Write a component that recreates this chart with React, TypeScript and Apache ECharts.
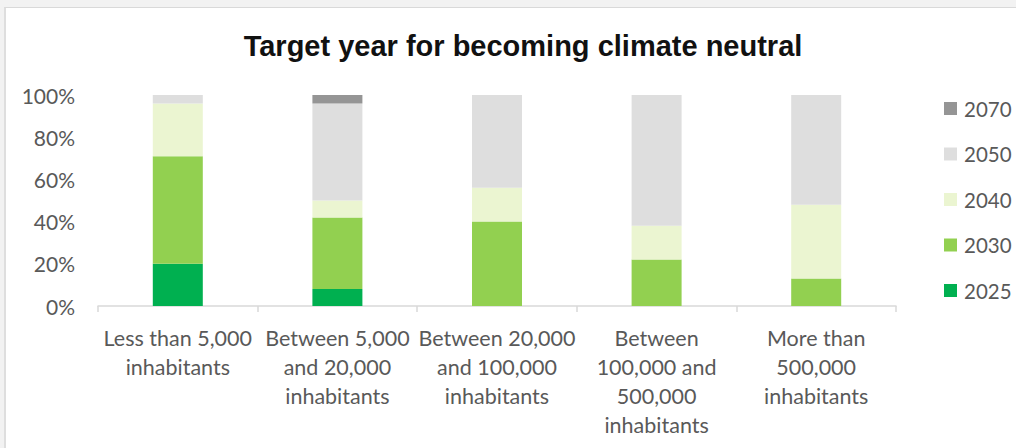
import React, { useEffect, useRef } from "react";
import * as echarts from "echarts";

const categories = [
  "Less than 5,000\ninhabitants",
  "Between 5,000\nand 20,000\ninhabitants",
  "Between 20,000\nand 100,000\ninhabitants",
  "Between\n100,000 and\n500,000\ninhabitants",
  "More than\n500,000\ninhabitants",
];
const y2025 = [20, 8, 0, 0, 0];
const y2030 = [51, 34, 40, 22, 13];
const y2040 = [25, 8, 16, 16, 35];
const y2050 = [4, 46, 44, 62, 52];
const y2070 = [0, 4, 0, 0, 0];
const seriesNames = ["2025", "2030", "2040", "2050", "2070"];
const seriesValues = [y2025, y2030, y2040, y2050, y2070];
const seriesColors = ["#00b050", "#92d050", "#ebf5d1", "#dedede", "#959595"];
const legendOrder = ["2070", "2050", "2040", "2030", "2025"];

const FONT = "Lato, 'Open Sans', sans-serif";
const TEXT = "#595959";

export default function App() {
  const ref = useRef<HTMLDivElement>(null);
  useEffect(() => {
    if (!ref.current) return;
    const chart = echarts.init(ref.current, undefined, { renderer: "svg" });
    chart.setOption({
      animation: false,
      title: {
        text: "Target year for becoming climate neutral",
        left: 518,
        top: 25,
        textAlign: "center",
        textStyle: {
          fontFamily: "'Liberation Sans', Arial, sans-serif",
          fontWeight: "bold",
          fontSize: 29,
          lineHeight: 32,
          color: "#111111",
        },
      },
      legend: {
        orient: "vertical",
        left: 939,
        top: 93,
        itemWidth: 13,
        itemHeight: 13,
        itemGap: 24.5,
        icon: "rect",
        data: legendOrder,
        textStyle: {
          fontFamily: FONT,
          fontSize: 20.5,
          lineHeight: 20,
          color: TEXT,
          padding: [0, 0, 0, 2],
        },
      },
      grid: { left: 98, right: 120, top: 95, bottom: 142 },
      xAxis: {
        type: "category",
        data: categories,
        axisLine: { lineStyle: { color: "#d9d9d9", width: 1.5 } },
        axisTick: { show: true, length: 6, lineStyle: { color: "#d9d9d9", width: 1.5 } },
        axisLabel: {
          interval: 0,
          margin: 17,
          fontFamily: FONT,
          fontSize: 21.5,
          lineHeight: 29,
          color: TEXT,
        },
      },
      yAxis: {
        type: "value",
        min: 0,
        max: 100,
        interval: 20,
        axisLine: { show: false },
        axisTick: { show: false },
        splitLine: { show: false },
        axisLabel: {
          formatter: "{value}%",
          margin: 23,
          fontFamily: FONT,
          fontSize: 21,
          color: TEXT,
        },
      },
      series: seriesNames.map((name, i) => ({
        name,
        type: "bar",
        stack: "total",
        barWidth: 50,
        data: seriesValues[i],
        itemStyle: { color: seriesColors[i] },
      })),
    });
    return () => chart.dispose();
  }, []);

  return (
    <div style={{ position: "fixed", left: 0, top: 0, width: 1016, height: 448, background: "#f2f2f2" }}>
      <div
        style={{
          position: "absolute",
          left: 4,
          top: 7,
          right: 0,
          bottom: 0,
          background: "#ffffff",
          borderLeft: "2px solid #dedede",
          borderTop: "1px solid #d9d9d9",
        }}
      />
      <div ref={ref} style={{ position: "absolute", left: 0, top: 0, width: 1016, height: 448 }} />
    </div>
  );
}
